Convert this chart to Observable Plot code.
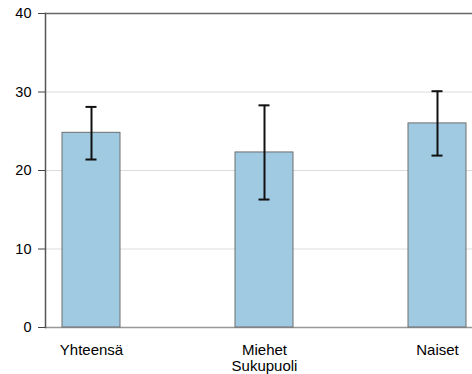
<!DOCTYPE html>
<html>
<head>
<meta charset="utf-8">
<script src="https://cdn.jsdelivr.net/npm/d3@7"></script>
<script src="https://cdn.jsdelivr.net/npm/@observablehq/plot@0.6"></script>
<style>
  html, body { margin: 0; padding: 0; background: #fff; overflow: hidden; }
  #chart svg { display: block; font-family: Helvetica, Arial, "Liberation Sans", sans-serif; }
</style>
</head>
<body>
<div id="chart"></div>
<script>
// Mean by gender with confidence intervals
const categories = ["Yhteensä", "Miehet", "Naiset"];
const values = [24.8, 22.3, 26.0];
const lower = [21.4, 16.3, 21.9];
const upper = [28.1, 28.3, 30.1];
const yTicks = [0, 10, 20, 30, 40];
const gridLines = [10, 20, 30];
const axisTitle = ["Sukupuoli"];

const rows = categories.map((c, i) => ({ group: c, value: values[i], lo: lower[i], hi: upper[i] }));

const chart = Plot.plot({
  width: 472,
  height: 374,
  marginTop: 13,
  marginBottom: 47,
  marginLeft: 45,
  marginRight: 0,
  style: { fontSize: "14px", color: "#000", background: "#fff" },
  x: { type: "band", domain: categories, range: [45, 482], paddingInner: 0.666, paddingOuter: 0.092, align: 0.5 },
  y: { domain: [0, 40], range: [327, 13] },
  marks: [
    Plot.ruleY(gridLines, { stroke: "#dcdcdc", strokeWidth: 1 }),
    Plot.ruleY([0], { stroke: "#999", strokeWidth: 1.5 }),
    Plot.ruleY([40], { stroke: "#666", strokeWidth: 1.5 }),
    Plot.frame({ anchor: "left", stroke: "#555", strokeWidth: 1.5 }),
    Plot.barY(rows, { x: "group", y: "value", fill: "#9fcae1", stroke: "#6e6e6e", strokeWidth: 1 }),
    Plot.ruleX(rows, { x: "group", y1: "lo", y2: "hi", stroke: "#111", strokeWidth: 2 }),
    Plot.tickY(rows, { x: "group", y: "lo", stroke: "#111", strokeWidth: 2, insetLeft: 23.5, insetRight: 23.5 }),
    Plot.tickY(rows, { x: "group", y: "hi", stroke: "#111", strokeWidth: 2, insetLeft: 23.5, insetRight: 23.5 }),
    Plot.axisY({ ticks: yTicks, tickSize: 7, tickPadding: 7, stroke: "#444", label: null, fontSize: 14.5 }),
    Plot.axisX({ tickSize: 0, tickPadding: 17, label: null, fontSize: 15 }),
    Plot.text(axisTitle, { frameAnchor: "bottom", x: () => "Miehet", dy: 39, lineAnchor: "middle", fontSize: 15, fill: "#000" })
  ]
});
document.getElementById("chart").appendChild(chart);
</script>
</body>
</html>
